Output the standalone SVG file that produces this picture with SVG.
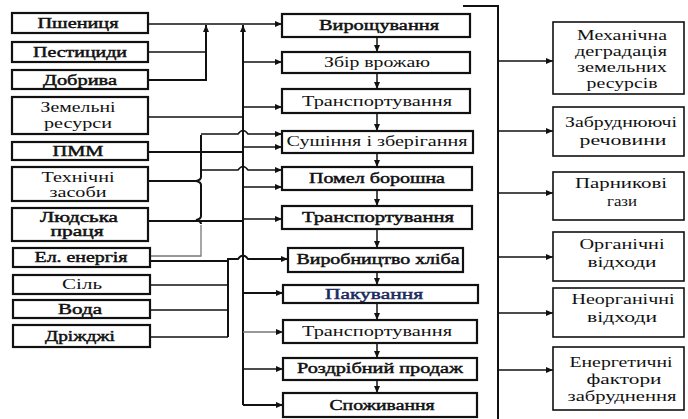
<svg xmlns="http://www.w3.org/2000/svg" width="688" height="419" viewBox="0 0 688 419">
<style>
.box{fill:#fff;stroke:#111;stroke-width:2.2}
.rbox{fill:#fff;stroke:#111;stroke-width:1.6}
.t{font-family:"Liberation Serif","DejaVu Serif","Times New Roman",serif;font-size:14px;fill:#111;text-anchor:middle}
.b{stroke:#111;stroke-width:0.45}
.ln{fill:none;stroke:#111;stroke-width:1.5}
.th{fill:none;stroke:#111;stroke-width:2}
.gr{fill:none;stroke:#777;stroke-width:1.3}
</style>
<defs>
<marker id="ah" markerWidth="7" markerHeight="6" refX="7" refY="3" orient="auto" markerUnits="userSpaceOnUse"><path d="M0,0 L7,3 L0,6 z" fill="#111"/></marker>
</defs>
<rect width="688" height="419" fill="#fff"/>

<g id="connectors">
<path class="ln" d="M148,24 H282" marker-end="url(#ah)"/>
<path class="ln" d="M148,52 H206"/>
<path class="th" d="M148,80 H206 V25" marker-end="url(#ah)"/>
<path class="th" d="M243,405 V25" marker-end="url(#ah)"/>
<path class="th" d="M243,405 H283" marker-end="url(#ah)"/>
<path class="ln" d="M243,62 H282" marker-end="url(#ah)"/>
<path class="ln" d="M243,107 H282" marker-end="url(#ah)"/>
<path class="ln" d="M243,147 H282" marker-end="url(#ah)"/>
<path class="ln" d="M243,187 H282" marker-end="url(#ah)"/>
<path class="ln" d="M243,219 H282" marker-end="url(#ah)"/>
<path class="th" d="M243,293 H283" marker-end="url(#ah)"/>
<path class="gr" d="M243,332 H283" marker-end="url(#ah)"/>
<path class="ln" d="M243,369 H283" marker-end="url(#ah)"/>
<path class="ln" d="M148,117 H243"/>
<path class="th" d="M148,152 H243"/>
<path class="th" d="M201,135 V177 q0,3 -5,4 q5,1 5,4 V216 q0,3 -5,4 q5,1 5,4"/>
<path class="gr" d="M201,225 V256 H150"/>
<path class="ln" d="M201,134 H238 q5,-7 10,0 H282" marker-end="url(#ah)"/>
<path class="ln" d="M201,170 H238 q5,-7 10,0 H282" marker-end="url(#ah)"/>
<path class="th" d="M148,181 H196"/>
<path class="th" d="M148,221 H243"/>
<path class="th" d="M228,337 V259 H238 q5,-7 10,0 H288" marker-end="url(#ah)"/>
<path class="th" d="M150,261 H228"/>
<path class="ln" d="M150,285 H228"/>
<path class="ln" d="M150,310 H228"/>
<path class="ln" d="M150,337 H228"/>
<path class="ln" d="M377,37 V52" marker-end="url(#ah)"/>
<path class="ln" d="M377,73 V89" marker-end="url(#ah)"/>
<path class="ln" d="M377,113 V131" marker-end="url(#ah)"/>
<path class="ln" d="M377,153 V167" marker-end="url(#ah)"/>
<path class="ln" d="M377,190 V206" marker-end="url(#ah)"/>
<path class="ln" d="M377,229 V248" marker-end="url(#ah)"/>
<path class="ln" d="M377,272 V285" marker-end="url(#ah)"/>
<path class="ln" d="M377,303 V320" marker-end="url(#ah)"/>
<path class="ln" d="M377,343 V358" marker-end="url(#ah)"/>
<path class="ln" d="M377,380 V393" marker-end="url(#ah)"/>
<path class="th" d="M463,6 H498 V419"/>
<path class="ln" d="M498,61 H553" marker-end="url(#ah)"/>
<path class="ln" d="M498,131 H553" marker-end="url(#ah)"/>
<path class="ln" d="M498,193 H553" marker-end="url(#ah)"/>
<path class="ln" d="M498,257 H553" marker-end="url(#ah)"/>
<path class="ln" d="M498,313 H553" marker-end="url(#ah)"/>
<path class="ln" d="M498,370 H553" marker-end="url(#ah)"/>
</g>

<g id="n-pshenytsia"><rect class="box" x="12" y="13" width="136" height="20"/><text class="t b" x="78" y="28" textLength="81" lengthAdjust="spacingAndGlyphs">Пшениця</text></g>
<g id="n-pestytsydy"><rect class="box" x="12" y="42" width="136" height="20"/><text class="t b" x="80" y="57" textLength="94" lengthAdjust="spacingAndGlyphs">Пестициди</text></g>
<g id="n-dobryva"><rect class="box" x="12" y="70" width="136" height="19"/><text class="t b" x="80" y="85" textLength="74" lengthAdjust="spacingAndGlyphs">Добрива</text></g>
<g id="n-zemelni"><rect class="box" x="12" y="97" width="136" height="37"/><text class="t" x="78" y="112" textLength="75" lengthAdjust="spacingAndGlyphs">Земельні</text><text class="t" x="78" y="128" textLength="68" lengthAdjust="spacingAndGlyphs">ресурси</text></g>
<g id="n-pmm"><rect class="box" x="12" y="142" width="136" height="18"/><text class="t b" x="78" y="156" textLength="51" lengthAdjust="spacingAndGlyphs">ПММ</text></g>
<g id="n-tekhnichni"><rect class="box" x="12" y="167" width="136" height="34"/><text class="t" x="78" y="182" textLength="73" lengthAdjust="spacingAndGlyphs">Технічні</text><text class="t" x="78" y="197" textLength="57" lengthAdjust="spacingAndGlyphs">засоби</text></g>
<g id="n-liudska"><rect class="box" x="12" y="208" width="136" height="33"/><text class="t b" x="79" y="222" textLength="78" lengthAdjust="spacingAndGlyphs">Людська</text><text class="t b" x="77" y="236" textLength="53" lengthAdjust="spacingAndGlyphs">праця</text></g>
<g id="n-elenergiia"><rect class="box" x="13" y="248" width="137" height="19"/><text class="t b" x="81" y="262" textLength="93" lengthAdjust="spacingAndGlyphs">Ел. енергія</text></g>
<g id="n-sil"><rect class="box" x="13" y="275" width="137" height="19"/><text class="t" x="82" y="289" textLength="40" lengthAdjust="spacingAndGlyphs">Сіль</text></g>
<g id="n-voda"><rect class="box" x="13" y="300" width="137" height="18"/><text class="t b" x="80" y="314" textLength="44" lengthAdjust="spacingAndGlyphs">Вода</text></g>
<g id="n-drizhdzhi"><rect class="box" x="13" y="325" width="137" height="22"/><text class="t b" x="80" y="341" textLength="70" lengthAdjust="spacingAndGlyphs">Дріжджі</text></g>

<g id="n-vyroshchuvannia"><rect class="box" x="282" y="14" width="188" height="23"/><text class="t b" x="379" y="30" textLength="120" lengthAdjust="spacingAndGlyphs">Вирощування</text></g>
<g id="n-zbir"><rect class="box" x="282" y="52" width="188" height="21"/><text class="t" x="377" y="67" textLength="106" lengthAdjust="spacingAndGlyphs">Збір врожаю</text></g>
<g id="n-transport1"><rect class="box" x="282" y="89" width="188" height="24"/><text class="t" x="377" y="106" textLength="150" lengthAdjust="spacingAndGlyphs">Транспортування</text></g>
<g id="n-sushinnia"><rect class="box" x="282" y="131" width="191" height="22"/><text class="t" x="377" y="146" textLength="181" lengthAdjust="spacingAndGlyphs">Сушіння і зберігання</text></g>
<g id="n-pomel"><rect class="box" x="282" y="167" width="190" height="23"/><text class="t b" x="377" y="183" textLength="136" lengthAdjust="spacingAndGlyphs">Помел борошна</text></g>
<g id="n-transport2"><rect class="box" x="282" y="206" width="190" height="23"/><text class="t b" x="378" y="222" textLength="152" lengthAdjust="spacingAndGlyphs">Транспортування</text></g>
<g id="n-vyrobnytstvo"><rect class="box" x="288" y="248" width="175" height="24"/><text class="t b" x="378" y="264" textLength="163" lengthAdjust="spacingAndGlyphs">Виробництво хліба</text></g>
<g id="n-pakuvannia"><rect class="box" x="283" y="285" width="195" height="18"/><text class="t b" x="374" y="299" textLength="98" lengthAdjust="spacingAndGlyphs" style="fill:#1b2b5e;stroke:#1b2b5e">Пакування</text></g>
<g id="n-transport3"><rect class="box" x="283" y="320" width="194" height="23"/><text class="t" x="377" y="336" textLength="150" lengthAdjust="spacingAndGlyphs">Транспортування</text></g>
<g id="n-rozdribnyi"><rect class="box" x="283" y="358" width="194" height="22"/><text class="t b" x="380" y="373" textLength="166" lengthAdjust="spacingAndGlyphs">Роздрібний продаж</text></g>
<g id="n-spozhyvannia"><rect class="box" x="283" y="393" width="194" height="24"/><text class="t b" x="382" y="410" textLength="105" lengthAdjust="spacingAndGlyphs">Споживання</text></g>

<g id="n-mekhanichna"><rect class="rbox" x="553" y="22" width="131" height="72"/><text class="t" x="622" y="40" textLength="90" lengthAdjust="spacingAndGlyphs">Механічна</text><text class="t" x="621" y="56" textLength="92" lengthAdjust="spacingAndGlyphs">деградація</text><text class="t" x="622" y="72" textLength="90" lengthAdjust="spacingAndGlyphs">земельних</text><text class="t" x="622" y="88" textLength="71" lengthAdjust="spacingAndGlyphs">ресурсів</text></g>
<g id="n-zabrudniuiuchi"><rect class="rbox" x="553" y="107" width="131" height="49"/><text class="t" x="621" y="127" textLength="112" lengthAdjust="spacingAndGlyphs">Забруднюючі</text><text class="t" x="623" y="145" textLength="87" lengthAdjust="spacingAndGlyphs">речовини</text></g>
<g id="n-parnykovi"><rect class="rbox" x="553" y="172" width="131" height="48"/><text class="t" x="621" y="188" textLength="92" lengthAdjust="spacingAndGlyphs">Парникові</text><text class="t" x="622" y="206" textLength="30" lengthAdjust="spacingAndGlyphs">гази</text></g>
<g id="n-organichni"><rect class="rbox" x="553" y="232" width="131" height="49"/><text class="t" x="622" y="249" textLength="85" lengthAdjust="spacingAndGlyphs">Органічні</text><text class="t" x="622" y="267" textLength="69" lengthAdjust="spacingAndGlyphs">відходи</text></g>
<g id="n-neorganichni"><rect class="rbox" x="553" y="288" width="131" height="49"/><text class="t" x="623" y="304" textLength="103" lengthAdjust="spacingAndGlyphs">Неорганічні</text><text class="t" x="622" y="322" textLength="70" lengthAdjust="spacingAndGlyphs">відходи</text></g>
<g id="n-energetychni"><rect class="rbox" x="553" y="347" width="131" height="63"/><text class="t" x="621" y="367" textLength="103" lengthAdjust="spacingAndGlyphs">Енергетичні</text><text class="t" x="624" y="384" textLength="75" lengthAdjust="spacingAndGlyphs">фактори</text><text class="t" x="622" y="401" textLength="109" lengthAdjust="spacingAndGlyphs">забруднення</text></g>
</svg>
